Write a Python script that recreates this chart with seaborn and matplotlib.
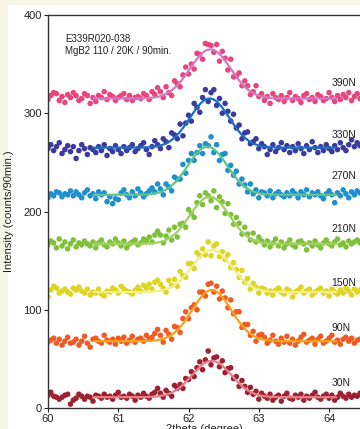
import numpy as np
import pandas as pd
import matplotlib
matplotlib.use("Agg")
import matplotlib.pyplot as plt
import seaborn as sns
from matplotlib.patches import Rectangle

sns.set_theme(style="ticks")
plt.rcParams['font.family'] = ['Liberation Sans', 'DejaVu Sans']

# ---- data ----
loads = ["390N", "330N", "270N", "210N", "150N", "90N", "30N"]
step = 0.04
start = 60.0

i390 = [314,318,321,320,313,317,311,319,316,321,318,313,315,320,318,310,316,312,318,316,322,314,319,317,313,316,318,320,314,318,313,316,317,315,320,318,314,322,319,326,
        322,316,327,321,318,333,330,327,339,347,340,350,345,361,360,355,371,370,369,362,370,353,363,356,344,355,337,338,341,328,333,328,319,322,328,317,320,
        313,317,310,320,316,314,318,312,316,321,313,317,315,311,318,320,314,316,312,319,317,313,315,321,316,312,318,314,319,316,321,313,317,320,315]
i330 = [264,268,262,266,270,259,263,267,261,266,254,262,268,264,258,265,263,260,266,262,268,257,264,261,267,263,259,266,262,265,268,261,264,267,270,263,258,266,272,268,
        264,274,271,265,280,278,274,289,277,290,298,292,310,306,301,316,324,312,321,324,308,315,300,310,302,292,299,285,288,274,280,281,269,271,274,264,269,
        266,258,263,268,261,265,270,263,267,260,266,262,269,264,259,267,263,271,265,260,266,262,268,264,261,267,263,270,265,262,268,273,266,270,267]
i270 = [214,218,216,220,219,215,218,217,221,216,220,217,214,219,222,216,218,213,220,217,219,210,215,208,213,212,219,222,217,214,220,216,223,219,215,218,221,224,220,228,
        223,217,228,225,221,235,233,233,248,239,252,259,252,260,267,259,269,267,276,260,268,252,258,259,242,247,237,241,228,233,227,220,228,218,222,214,220,
        219,216,221,214,218,220,217,215,219,216,221,218,214,220,217,222,215,219,217,220,216,213,218,221,217,209,219,216,222,218,214,220,217,221,219]
i210 = [166,170,168,163,172,165,169,162,167,171,164,168,166,170,167,165,169,163,168,171,166,164,169,167,172,168,165,170,163,167,169,171,166,168,172,170,174,169,176,180,
        176,168,175,181,171,184,174,187,188,184,202,198,194,209,216,207,219,216,211,221,204,215,210,198,208,197,187,194,188,177,184,177,171,178,169,174,170,
        166,170,164,168,172,165,169,163,167,171,166,164,169,170,167,161,168,165,170,166,163,168,171,167,165,169,172,166,168,164,170,167,169,171,168]
i150 = [113,120,124,122,117,119,121,118,116,122,120,123,119,117,121,115,118,117,121,116,114,119,118,122,120,117,124,121,119,118,116,120,123,119,125,122,126,121,128,130,
        126,122,118,130,125,131,124,139,135,133,147,147,142,158,155,162,156,169,155,165,167,154,159,151,156,143,148,141,133,140,128,132,121,127,123,117,122,
        121,117,119,115,120,122,118,116,121,119,113,118,120,123,117,119,121,115,118,120,122,117,119,114,121,118,116,120,117,122,119,115,121,118,120]
i90 = [67,69,71,66,70,64,68,72,66,67,70,64,68,73,66,62,70,71,68,66,74,69,67,70,65,71,68,72,66,69,73,67,70,71,68,74,70,72,76,80,
       74,67,79,75,70,83,82,77,91,98,91,102,105,100,118,118,114,126,127,118,124,111,119,112,102,110,96,98,98,82,85,85,74,78,68,74,75,
       72,66,69,74,68,65,71,67,73,66,70,64,68,72,75,67,69,71,65,70,73,66,68,71,74,67,69,65,70,72,68,71,66,69,70]
i30 = [13,16,12,11,9,11,13,14,4,8,10,14,12,9,12,11,7,13,12,10,14,11,12,9,13,16,11,12,10,14,12,8,13,11,15,12,10,14,16,20,
       15,11,18,15,12,23,20,24,20,30,29,37,32,41,47,39,49,58,44,51,52,42,48,36,40,41,30,32,22,28,22,16,21,14,17,9,15,
       12,10,14,8,11,13,7,12,15,10,9,13,11,14,8,12,10,13,16,11,9,12,14,10,13,8,11,15,12,10,14,11,13,12,15]
intensities = [i390, i330, i270, i210, i150, i90, i30]

# Gaussian fit parameters (baseline, amplitude, centre, sigma)
fit_base = [315, 265, 217, 167, 118, 68, 11]
fit_amp = [50, 50, 49, 48, 43, 52, 37]
fit_center = [62.31, 62.30, 62.27, 62.30, 62.33, 62.33, 62.33]
fit_sigma = [0.29, 0.28, 0.28, 0.28, 0.28, 0.28, 0.28]
fit_range = (60.65, 64.1)

label_x = 64.03
label_y = [331, 278, 236, 182, 127, 81, 25]

point_colors = ["#e8457f", "#3b3a9e", "#1f8fcf", "#7fc03a", "#dcd522", "#f05a24", "#9c2231"]
line_colors = ["#d07ac0", "#1a6fc4", "#5fc58a", "#a2d060", "#f2ee80", "#f7a21b", "#e87d8a"]

rows = []
for name, vals in zip(loads, intensities):
    for k, v in enumerate(vals):
        rows.append({"two_theta": start + step * k, "intensity": v, "load": name})
df = pd.DataFrame(rows)

fit_rows = []
xs = np.linspace(fit_range[0], fit_range[1], 300)
for name, b, a, c, s in zip(loads, fit_base, fit_amp, fit_center, fit_sigma):
    ys = b + a * np.exp(-(xs - c) ** 2 / (2 * s ** 2))
    for x, y in zip(xs, ys):
        fit_rows.append({"two_theta": x, "intensity": y, "load": name})
fit_df = pd.DataFrame(fit_rows)

# ---- figure ----
fig = plt.figure(figsize=(3.6, 4.29), dpi=100)
fig.patch.set_facecolor("#f7f5e4")
bg = Rectangle((8 / 360, 0), 1, 1 - 5 / 429, transform=fig.transFigure,
               facecolor="white", edgecolor="none", zorder=-10)
fig.add_artist(bg)
ax = fig.add_axes([48 / 360, 21 / 429, 1 - 48 / 360, (408 - 15) / 429])
ax.set_zorder(1)
ax.set_facecolor("white")

sns.scatterplot(data=df, x="two_theta", y="intensity", hue="load", hue_order=loads,
                palette=point_colors, s=16, linewidth=0, ax=ax, legend=False, zorder=2)
sns.lineplot(data=fit_df, x="two_theta", y="intensity", hue="load", hue_order=loads,
             palette=line_colors, linewidth=1.6, ax=ax, legend=False, zorder=3)

for name, y in zip(loads, label_y):
    ax.text(label_x, y, name, fontsize=7.5, ha="left", va="center", color="#222222")

ax.text(60.24, 376, "E339R020-038", fontsize=7, ha="left", va="center", color="#222222")
ax.text(60.24, 363, "MgB2 110 / 20K / 90min.", fontsize=7, ha="left", va="center", color="#222222")

ax.set_xlim(60, 64.44)
ax.set_ylim(0, 400)
ax.set_xticks([60, 61, 62, 63, 64])
ax.set_yticks([0, 100, 200, 300, 400])
ax.tick_params(axis="both", direction="out", length=3, width=0.8, labelsize=8,
               colors="#222222", pad=1.5)
ax.set_xlabel("2theta (degree)", fontsize=8, labelpad=0, color="#222222")
ax.set_ylabel("Intensity (counts/90min.)", fontsize=8, labelpad=7, color="#222222")
for side in ["left", "bottom", "top"]:
    ax.spines[side].set_color("#333333")
    ax.spines[side].set_linewidth(1.0)
ax.spines["right"].set_visible(False)

fig.savefig("out.png", dpi=100, facecolor=fig.get_facecolor())
